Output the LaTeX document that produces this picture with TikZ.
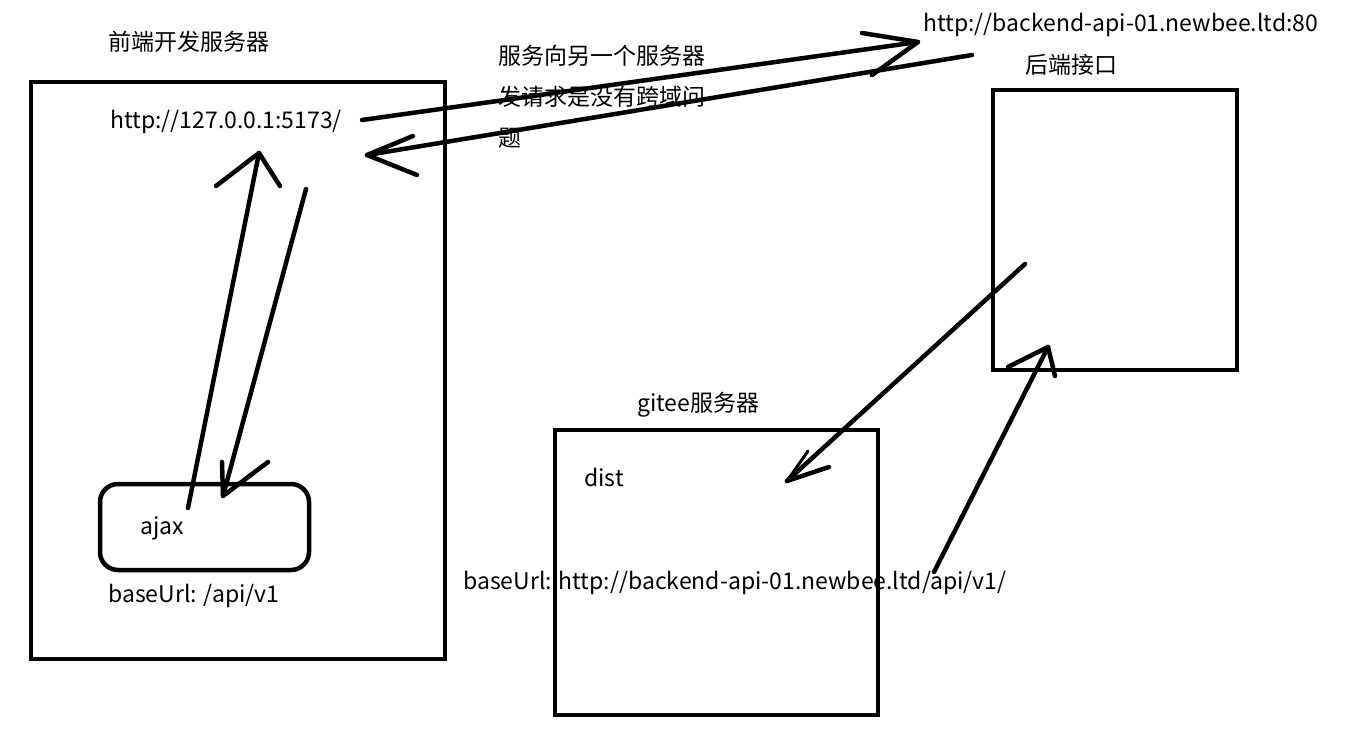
\documentclass[tikz,border=0pt]{standalone}
\usepackage{fontspec}
\setmainfont{Noto Sans CJK SC}
\usepackage{tikz}
\usetikzlibrary{positioning,calc}

\tikzset{
  box/.style={draw,line width=4.5pt},
  pen/.style={line width=4.5pt,line cap=round,line join=round},
  lbl/.style={anchor=west,inner sep=0pt,font=\fontsize{23}{41}\selectfont}
}

\begin{document}
\begin{tikzpicture}[x=1pt,y=-1pt]
\useasboundingbox[fill=white] (0,0) rectangle (1350,736);

% Boxes
\draw[box] (31,82) rectangle (445,659);
\draw[box,rounded corners=18pt] (100,484) rectangle (309,570);
\draw[box] (993,90) rectangle (1237,370);
\draw[box] (555,430) rectangle (878,715);

% Labels
\node[lbl] (front) at (108,42) {前端开发服务器};
\node[lbl] (local) at (110,122) {http://127.0.0.1:5173/};
\node[lbl] (ajax) at (140,528) {ajax};
\node[lbl] (devbase) at (108,596) {baseUrl: /api/v1};
\node[lbl] (remote) at (923,25) {http://backend-api-01.newbee.ltd:80};
\node[lbl] (back) at (1025,65) {后端接口};
\node[lbl] (gitee) at (637,405) {gitee服务器};
\node[lbl] (dist) at (584,477) {dist};
\node[lbl] (prodbase) at (463,583) {baseUrl: http://backend-api-01.newbee.ltd/api/v1/};
\node[lbl,align=left,anchor=north west] (note) at (498,45) {服务向另一个服务器\\发请求是没有跨域问\\题};

% Arrow end points
\coordinate (a1s) at (362,120);  \coordinate (a1e) at (918,42);
\coordinate (a2s) at (972,55);   \coordinate (a2e) at (367,155);
\coordinate (a3s) at (188,508);  \coordinate (a3e) at (259,153);
\coordinate (a4s) at (306,189);  \coordinate (a4e) at (223,496);
\coordinate (a5s) at (1025,264); \coordinate (a5e) at (787,481);
\coordinate (a6s) at (934,572);  \coordinate (a6e) at (1048,347);

% Local server <-> remote backend
\draw[pen] (a1s) -- (a1e);
\draw[pen] (862,33) -- (a1e) -- (872,75);
\draw[pen] (a2s) -- (a2e);
\draw[pen] (413,136) -- (a2e) -- (417,175);

% ajax <-> local server
\draw[pen] (a3s) -- (a3e);
\draw[pen] (216,186) -- (a3e) -- (280,186);
\draw[pen] (a4s) -- (a4e);
\draw[pen] (222,462) -- (a4e) -- (268,462);

% backend <-> gitee
\draw[pen] (a5s) -- (a5e);
\draw[line width=3pt,line cap=round] (808,451) -- (a5e);
\draw[pen] (829,467) -- (a5e);
\draw[pen] (a6s) -- (a6e);
\draw[pen] (1008,367) -- (a6e) -- (1055,376);
\end{tikzpicture}
\end{document}
